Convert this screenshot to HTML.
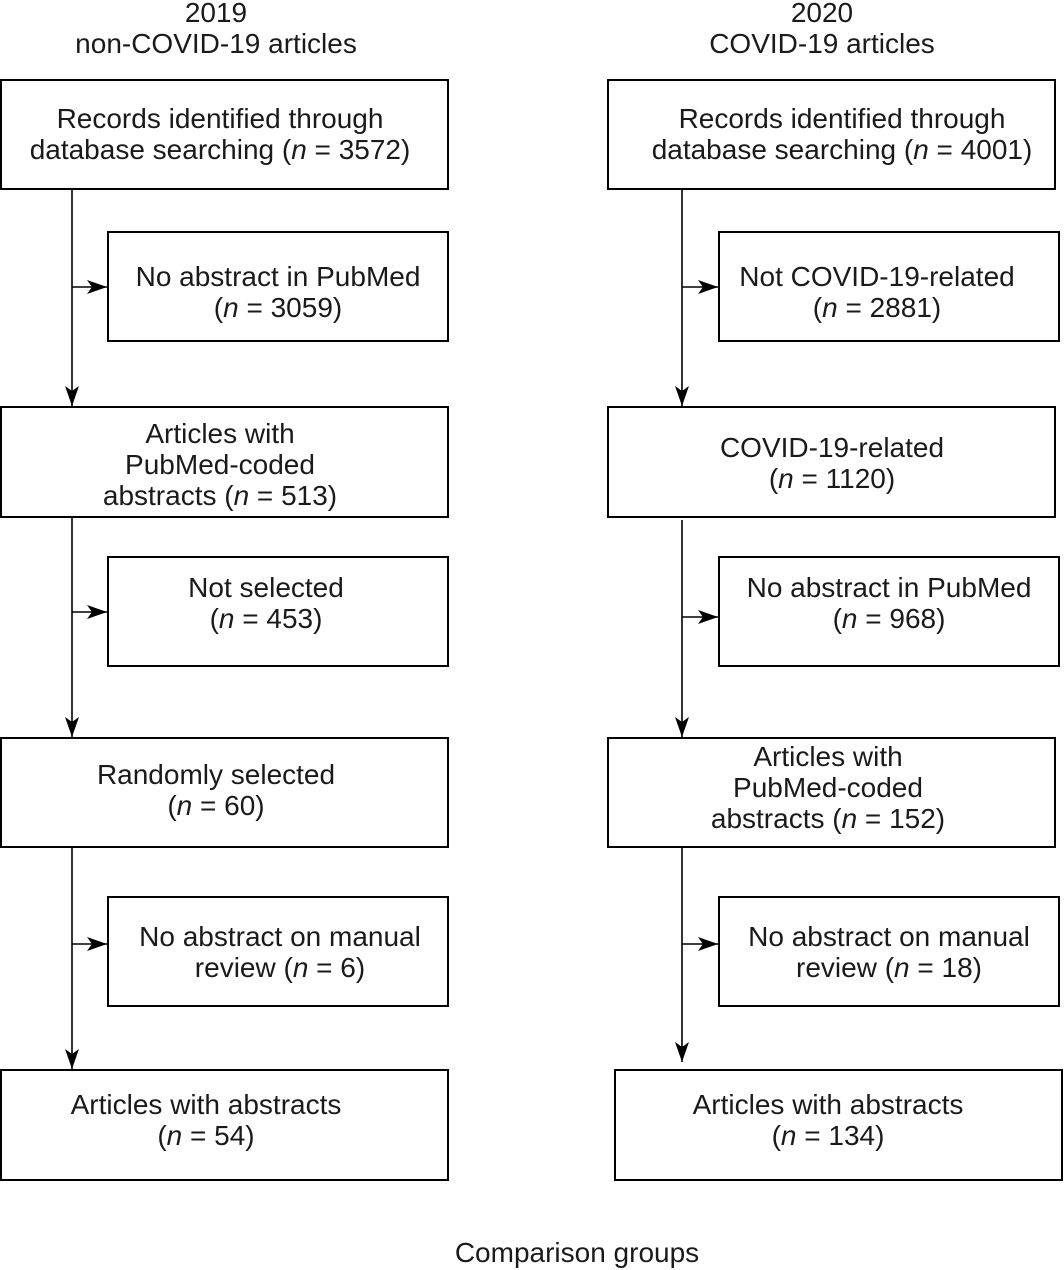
<!DOCTYPE html>
<html><head><meta charset="utf-8"><style>
html,body{margin:0;padding:0;background:#fff;}
svg{display:block;}
text{font-family:"Liberation Sans",sans-serif;font-size:28px;fill:#1a1a1a;text-anchor:middle;}
</style></head><body>
<svg width="1064" height="1270" viewBox="0 0 1064 1270" xmlns="http://www.w3.org/2000/svg">
<defs>
<marker id="a" markerWidth="20" markerHeight="14" refX="20" refY="7" orient="auto" markerUnits="userSpaceOnUse">
<path d="M0,0 L20,7 L0,14 L5,7 Z" fill="#000"/>
</marker>
</defs>
<g fill="none" stroke="#000" stroke-width="2">
<rect x="1" y="80" width="447" height="109"/>
<rect x="108" y="232" width="340" height="109"/>
<rect x="1" y="407" width="447" height="110"/>
<rect x="108" y="557" width="340" height="109"/>
<rect x="1" y="738" width="447" height="109"/>
<rect x="108" y="897" width="340" height="109"/>
<rect x="1" y="1070" width="447" height="110"/>
<rect x="608" y="80" width="447" height="109"/>
<rect x="719" y="232" width="340" height="109"/>
<rect x="608" y="407" width="447" height="110"/>
<rect x="719" y="557" width="340" height="109"/>
<rect x="608" y="738" width="447" height="109"/>
<rect x="719" y="897" width="340" height="109"/>
<rect x="615" y="1070" width="447" height="110"/>
</g>
<g stroke="#000" stroke-width="1.6" fill="none">
<line x1="72" y1="189" x2="72" y2="406" marker-end="url(#a)"/>
<line x1="72" y1="287" x2="107" y2="287" marker-end="url(#a)"/>
<line x1="72" y1="517" x2="72" y2="737" marker-end="url(#a)"/>
<line x1="72" y1="612" x2="107" y2="612" marker-end="url(#a)"/>
<line x1="72" y1="847" x2="72" y2="1069" marker-end="url(#a)"/>
<line x1="72" y1="944" x2="107" y2="944" marker-end="url(#a)"/>
<line x1="682" y1="189" x2="682" y2="406" marker-end="url(#a)"/>
<line x1="682" y1="287" x2="718" y2="287" marker-end="url(#a)"/>
<line x1="682" y1="520" x2="682" y2="737" marker-end="url(#a)"/>
<line x1="682" y1="617" x2="718" y2="617" marker-end="url(#a)"/>
<line x1="682" y1="847" x2="682" y2="1062" marker-end="url(#a)"/>
<line x1="682" y1="944" x2="718" y2="944" marker-end="url(#a)"/>
</g>
<text x="216" y="22">2019</text>
<text x="216" y="53">non-COVID-19 articles</text>
<text x="822" y="22">2020</text>
<text x="822" y="53">COVID-19 articles</text>

<text x="220" y="128">Records identified through</text>
<text x="220" y="159">database searching (<tspan font-style="italic">n</tspan> = 3572)</text>
<text x="278" y="286">No abstract in PubMed</text>
<text x="278" y="317">(<tspan font-style="italic">n</tspan> = 3059)</text>
<text x="220" y="443">Articles with</text>
<text x="220" y="474">PubMed-coded</text>
<text x="220" y="505">abstracts (<tspan font-style="italic">n</tspan> = 513)</text>
<text x="266" y="597">Not selected</text>
<text x="266" y="628">(<tspan font-style="italic">n</tspan> = 453)</text>
<text x="216" y="784">Randomly selected</text>
<text x="216" y="815">(<tspan font-style="italic">n</tspan> = 60)</text>
<text x="280" y="946">No abstract on manual</text>
<text x="280" y="977">review (<tspan font-style="italic">n</tspan> = 6)</text>
<text x="206" y="1114">Articles with abstracts</text>
<text x="206" y="1145">(<tspan font-style="italic">n</tspan> = 54)</text>

<text x="842" y="128">Records identified through</text>
<text x="842" y="159">database searching (<tspan font-style="italic">n</tspan> = 4001)</text>
<text x="877" y="286">Not COVID-19-related</text>
<text x="877" y="317">(<tspan font-style="italic">n</tspan> = 2881)</text>
<text x="832" y="457">COVID-19-related</text>
<text x="832" y="488">(<tspan font-style="italic">n</tspan> = 1120)</text>
<text x="889" y="597">No abstract in PubMed</text>
<text x="889" y="628">(<tspan font-style="italic">n</tspan> = 968)</text>
<text x="828" y="766">Articles with</text>
<text x="828" y="797">PubMed-coded</text>
<text x="828" y="828">abstracts (<tspan font-style="italic">n</tspan> = 152)</text>
<text x="889" y="946">No abstract on manual</text>
<text x="889" y="977">review (<tspan font-style="italic">n</tspan> = 18)</text>
<text x="828" y="1114">Articles with abstracts</text>
<text x="828" y="1145">(<tspan font-style="italic">n</tspan> = 134)</text>

<text x="577" y="1262">Comparison groups</text>
</svg>
</body></html>
